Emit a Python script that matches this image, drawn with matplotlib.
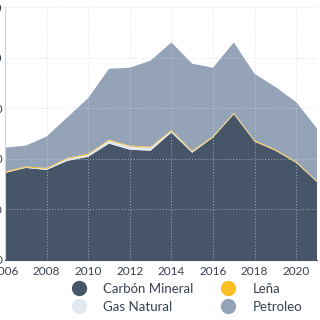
import matplotlib
matplotlib.use("Agg")
import matplotlib.pyplot as plt
from matplotlib.lines import Line2D
import numpy as np

plt.rcParams['font.family'] = ['Lato', 'DejaVu Sans']

years = [2006, 2007, 2008, 2009, 2010, 2011, 2012, 2013, 2014, 2015, 2016, 2017, 2018, 2019, 2020, 2021]
carbon = [86, 91, 89, 98, 102, 115, 109, 108, 126, 106, 121, 144, 117, 108, 96, 77]
gas = [0.5, 0.5, 1, 2, 2, 3, 3, 3, 1.5, 1, 0.5, 0.5, 0.3, 0.3, 0.3, 0.3]
lena = [1, 1, 1, 1, 1, 1, 1, 1, 1, 1, 1, 1, 1, 1, 1, 1]
total = [111, 113, 122, 141, 160, 189, 190, 197, 215, 194, 190, 215, 184, 171, 156, 130]
petroleo = [t - c - g - l for t, c, g, l in zip(total, carbon, gas, lena)]

labels = ["Carbón Mineral", "Gas Natural", "Leña", "Petroleo"]
colors = ["#475569", "#e2e8f0", "#fbbf24", "#94a3b8"]

fig = plt.figure(figsize=(3.2, 3.2), dpi=100)
ax = fig.add_axes([5/320, 1 - 260/320, 312/320, 253/320])
ax.stackplot(years, carbon, gas, lena, petroleo, colors=colors, linewidth=0)
ax.set_xlim(2006, 2021)
ax.set_ylim(0, 250)
ax.set_xticks(range(2006, 2022, 2))
ax.set_yticks([0, 50, 100, 150, 200, 250])
ax.grid(True, color="#cbd5e1", linestyle=(0, (1, 2)), linewidth=0.7, alpha=0.7)
ax.set_axisbelow(False)
for s in ["top", "right"]:
    ax.spines[s].set_visible(False)
ax.spines["left"].set_color("#d1d5db")
ax.spines["bottom"].set_color("#475569")
ax.tick_params(axis="both", labelsize=8.5, colors="#374151", length=0, pad=4)
ax.tick_params(axis="y", pad=2)

handles = [Line2D([], [], marker="o", linestyle="", markersize=10, markerfacecolor=c,
                  markeredgecolor=c) for c in colors]
fig.legend(handles, labels, ncol=2, loc="center", bbox_to_anchor=(0.58, 1 - 298/320),
           frameon=False, fontsize=9.5, handlelength=1.5, handletextpad=1.1,
           columnspacing=1.9, labelspacing=0.45, labelcolor="#374151")

fig.savefig("out.png", dpi=100)
